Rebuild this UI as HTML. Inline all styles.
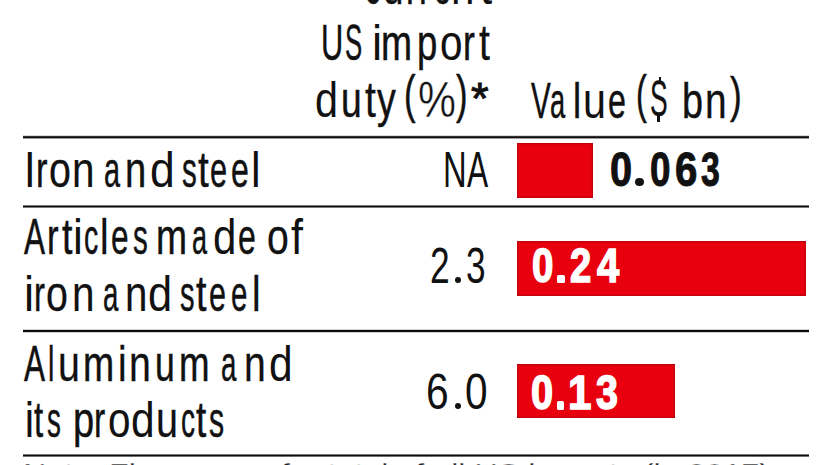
<!DOCTYPE html>
<html><head><meta charset="utf-8">
<style>
html,body{margin:0;padding:0;background:#fff;}
html{overflow:hidden;width:826px;height:465px;}
body{width:826px;height:465px;position:relative;overflow:hidden;font-family:"Liberation Sans",sans-serif;color:#111;font-kerning:none;}
.t{position:absolute;font-size:48px;line-height:48px;white-space:nowrap;transform-origin:0 0;}
.hr{position:absolute;left:23px;width:786px;height:1px;background:#0d0d0d;}
.bar{position:absolute;background:#e8000f;left:517px;box-shadow:inset 0 0 2px 0.5px rgba(110,0,12,0.6);}
</style></head><body>
<div class="hr" style="top:135px;height:1px;opacity:0.15;"></div>
<div class="hr" style="top:136px;height:1px;opacity:0.85;"></div>
<div class="hr" style="top:137px;height:1px;opacity:1;"></div>
<div class="hr" style="top:138px;height:1px;opacity:0.4;"></div>
<div class="hr" style="top:205px;height:1px;opacity:0.55;"></div>
<div class="hr" style="top:206px;height:1px;opacity:1;"></div>
<div class="hr" style="top:207px;height:1px;opacity:0.55;"></div>
<div class="hr" style="top:329px;height:1px;opacity:0.2;"></div>
<div class="hr" style="top:330px;height:1px;opacity:1;"></div>
<div class="hr" style="top:331px;height:1px;opacity:1;"></div>
<div class="hr" style="top:332px;height:1px;opacity:0.2;"></div>
<div class="hr" style="top:454px;height:1px;opacity:0.55;"></div>
<div class="hr" style="top:455px;height:1px;opacity:1;"></div>
<div class="hr" style="top:456px;height:1px;opacity:0.6;"></div>
<div style="position:absolute;left:0;top:455px;width:826px;height:10px;overflow:hidden;"><div class="t" style="left:23.36px;top:5.3px;font-size:28px;line-height:28px;transform:scaleX(1.1512);color:#222;-webkit-text-stroke:0.3px #fff;">Note: Figures are for total of all US imports (in 2017)</div></div>
<div class="bar" style="top:143px;width:76px;height:55px;"></div>
<div class="bar" style="top:241px;width:289px;height:55px;"></div>
<div class="bar" style="top:364px;width:158px;height:54px;"></div>

<div class="t" style="left:442.81px;top:144.8px;font-size:50px;line-height:50px;transform:scaleX(0.6552);color:#111;-webkit-text-stroke:0px #111;">N</div>
<div class="t" style="left:466.94px;top:144.8px;font-size:50px;line-height:50px;transform:scaleX(0.6334);color:#111;-webkit-text-stroke:0px #111;">A</div>
<div class="t" style="left:430.22px;top:241px;font-size:50px;line-height:50px;transform:scaleX(0.7068);color:#111;-webkit-text-stroke:0px #111;">2</div>
<div class="t" style="left:466.16px;top:241px;font-size:50px;line-height:50px;transform:scaleX(0.7045);color:#111;-webkit-text-stroke:0px #111;">3</div>
<div class="t" style="left:426.03px;top:367.4px;font-size:50px;line-height:50px;transform:scaleX(0.8149);color:#111;-webkit-text-stroke:0px #111;">6</div>
<div class="t" style="left:464.61px;top:367.4px;font-size:50px;line-height:50px;transform:scaleX(0.8117);color:#111;-webkit-text-stroke:0px #111;">0</div>
<div class="t" style="left:609.83px;top:145.9px;font-size:48px;line-height:48px;transform:scaleX(0.8279);font-weight:bold;color:#111;-webkit-text-stroke:1.0px #111;">0</div>
<div class="t" style="left:650.24px;top:145.9px;font-size:48px;line-height:48px;transform:scaleX(0.7666);font-weight:bold;color:#111;-webkit-text-stroke:1.0px #111;">0</div>
<div class="t" style="left:674.63px;top:145.9px;font-size:48px;line-height:48px;transform:scaleX(0.8361);font-weight:bold;color:#111;-webkit-text-stroke:1.0px #111;">6</div>
<div class="t" style="left:700.62px;top:145.9px;font-size:48px;line-height:48px;transform:scaleX(0.7041);font-weight:bold;color:#111;-webkit-text-stroke:1.0px #111;">3</div>
<div class="t" style="left:531.58px;top:241px;font-size:49px;line-height:49px;transform:scaleX(0.7853);font-weight:bold;color:#fff;-webkit-text-stroke:1.6px #fff;">0</div>
<div class="t" style="left:570.48px;top:241px;font-size:49px;line-height:49px;transform:scaleX(0.7800);font-weight:bold;color:#fff;-webkit-text-stroke:1.6px #fff;">2</div>
<div class="t" style="left:596.60px;top:241px;font-size:49px;line-height:49px;transform:scaleX(0.8153);font-weight:bold;color:#fff;-webkit-text-stroke:1.6px #fff;">4</div>
<div class="t" style="left:530.93px;top:367.8px;font-size:49px;line-height:49px;transform:scaleX(0.8110);font-weight:bold;color:#fff;-webkit-text-stroke:1.6px #fff;">0</div>
<div class="t" style="left:567.95px;top:367.8px;font-size:49px;line-height:49px;transform:scaleX(0.8596);font-weight:bold;color:#fff;-webkit-text-stroke:1.6px #fff;">1</div>
<div class="t" style="left:596.30px;top:367.8px;font-size:49px;line-height:49px;transform:scaleX(0.8047);font-weight:bold;color:#fff;-webkit-text-stroke:1.6px #fff;">3</div>
<div style="position:absolute;left:455.3px;top:277.3px;width:5.8px;height:5.8px;border-radius:50%;background:#111;"></div><div style="position:absolute;left:454.7px;top:403.4px;width:6px;height:5.8px;border-radius:50%;background:#111;"></div><div style="position:absolute;left:635.1px;top:178.2px;width:8.6px;height:8.2px;border-radius:50%;background:#111;"></div><div style="position:absolute;left:557px;top:274.5px;width:8px;height:8.5px;border-radius:1.5px;background:#fff;"></div><div style="position:absolute;left:557px;top:401.3px;width:7.3px;height:8.5px;border-radius:1.5px;background:#fff;"></div>
<div class="t" style="left:403.90px;top:70.09px;font-size:50.88px;line-height:50.88px;transform:scaleX(0.6820);color:#111;-webkit-text-stroke:0.5px #111;">(</div>
<div class="t" style="left:418.13px;top:75.29px;font-size:49.16px;line-height:49.16px;transform:scaleX(0.8680);color:#111;-webkit-text-stroke:0.4px #fff;">%</div>
<div class="t" style="left:456.15px;top:70.09px;font-size:50.88px;line-height:50.88px;transform:scaleX(0.6820);color:#111;-webkit-text-stroke:0.5px #111;">)</div>
<div class="t" style="left:470.52px;top:76.26px;font-size:45.00px;line-height:45.00px;transform:scaleX(1.0071);color:#111;-webkit-text-stroke:1.0px #111;">*</div>
<div class="t" style="left:635.94px;top:70.09px;font-size:50.88px;line-height:50.88px;transform:scaleX(0.6375);color:#111;-webkit-text-stroke:0.5px #111;">(</div>
<div class="t" style="left:649.85px;top:75.04px;font-size:49.58px;line-height:49.58px;transform:scaleX(0.5326);color:#111;-webkit-text-stroke:0.3px #111;">S</div>
<div class="t" style="left:729.74px;top:71.22px;font-size:49.80px;line-height:49.80px;transform:scaleX(0.7043);color:#111;-webkit-text-stroke:0.5px #111;">)</div>
<div style="position:absolute;left:659px;top:76.7px;width:2.4px;height:6px;background:#111;"></div><div style="position:absolute;left:657.4px;top:116.4px;width:2.4px;height:6px;background:#111;"></div>
<div class="t" style="left:23.74px;top:145.01px;transform:scaleX(0.8364);font-size:50px;line-height:48px;-webkit-text-stroke:0.35px #fff;line-height:50px;-webkit-text-stroke:0.00px #111;">I</div>
<div class="t" style="left:36.22px;top:145.01px;transform:scaleX(0.6880);font-size:50px;line-height:48px;-webkit-text-stroke:0.35px #fff;line-height:50px;-webkit-text-stroke:0.50px #111;">r</div>
<div class="t" style="left:48.65px;top:145.01px;transform:scaleX(0.7879);font-size:50px;line-height:48px;-webkit-text-stroke:0.35px #fff;line-height:50px;-webkit-text-stroke:0.28px #111;">o</div>
<div class="t" style="left:71.71px;top:145.01px;transform:scaleX(0.8098);font-size:50px;line-height:48px;-webkit-text-stroke:0.35px #fff;line-height:50px;-webkit-text-stroke:0.15px #111;">n</div>
<div class="t" style="left:104.38px;top:145.01px;transform:scaleX(0.5762);font-size:50px;line-height:48px;-webkit-text-stroke:0.35px #fff;line-height:50px;-webkit-text-stroke:0.50px #111;">a</div>
<div class="t" style="left:125.37px;top:145.01px;transform:scaleX(0.7627);font-size:50px;line-height:48px;-webkit-text-stroke:0.35px #fff;line-height:50px;-webkit-text-stroke:0.44px #111;">n</div>
<div class="t" style="left:150.13px;top:145.01px;transform:scaleX(0.8895);font-size:50px;line-height:48px;-webkit-text-stroke:0.35px #fff;line-height:50px;-webkit-text-stroke:0.00px #111;">d</div>
<div class="t" style="left:182.18px;top:145.01px;transform:scaleX(0.5917);font-size:50px;line-height:48px;-webkit-text-stroke:0.35px #fff;line-height:50px;-webkit-text-stroke:0.50px #111;">s</div>
<div class="t" style="left:197.61px;top:145.01px;transform:scaleX(0.7753);font-size:50px;line-height:48px;-webkit-text-stroke:0.35px #fff;line-height:50px;-webkit-text-stroke:0.36px #111;">t</div>
<div class="t" style="left:209.70px;top:145.01px;transform:scaleX(0.6138);font-size:50px;line-height:48px;-webkit-text-stroke:0.35px #fff;line-height:50px;-webkit-text-stroke:0.50px #111;">e</div>
<div class="t" style="left:231.44px;top:145.01px;transform:scaleX(0.6393);font-size:50px;line-height:48px;-webkit-text-stroke:0.35px #fff;line-height:50px;-webkit-text-stroke:0.50px #111;">e</div>
<div class="t" style="left:251.29px;top:145.01px;transform:scaleX(0.8647);font-size:50px;line-height:48px;-webkit-text-stroke:0.35px #fff;line-height:50px;-webkit-text-stroke:0.00px #111;">l</div>
<div class="t" style="left:24.14px;top:212.01px;transform:scaleX(0.6304);font-size:50px;line-height:48px;-webkit-text-stroke:0.35px #fff;line-height:50px;-webkit-text-stroke:0.50px #111;">A</div>
<div class="t" style="left:47.39px;top:212.01px;transform:scaleX(0.6960);font-size:50px;line-height:48px;-webkit-text-stroke:0.35px #fff;line-height:50px;-webkit-text-stroke:0.50px #111;">r</div>
<div class="t" style="left:62.43px;top:212.01px;transform:scaleX(0.7518);font-size:50px;line-height:48px;-webkit-text-stroke:0.35px #fff;line-height:50px;-webkit-text-stroke:0.50px #111;">t</div>
<div class="t" style="left:73.23px;top:212.01px;transform:scaleX(0.8875);font-size:50px;line-height:48px;-webkit-text-stroke:0.35px #fff;line-height:50px;-webkit-text-stroke:0.00px #111;">i</div>
<div class="t" style="left:84.49px;top:212.01px;transform:scaleX(0.5706);font-size:50px;line-height:48px;-webkit-text-stroke:0.35px #fff;line-height:50px;-webkit-text-stroke:0.50px #111;">c</div>
<div class="t" style="left:100.49px;top:212.01px;transform:scaleX(0.7737);font-size:50px;line-height:48px;-webkit-text-stroke:0.35px #fff;line-height:50px;-webkit-text-stroke:0.37px #111;">l</div>
<div class="t" style="left:111.16px;top:212.01px;transform:scaleX(0.6308);font-size:50px;line-height:48px;-webkit-text-stroke:0.35px #fff;line-height:50px;-webkit-text-stroke:0.50px #111;">e</div>
<div class="t" style="left:132.98px;top:212.01px;transform:scaleX(0.5917);font-size:50px;line-height:48px;-webkit-text-stroke:0.35px #fff;line-height:50px;-webkit-text-stroke:0.50px #111;">s</div>
<div class="t" style="left:156.23px;top:212.01px;transform:scaleX(0.7450);font-size:50px;line-height:48px;-webkit-text-stroke:0.35px #fff;line-height:50px;-webkit-text-stroke:0.50px #111;">m</div>
<div class="t" style="left:191.55px;top:212.01px;transform:scaleX(0.5412);font-size:50px;line-height:48px;-webkit-text-stroke:0.35px #fff;line-height:50px;-webkit-text-stroke:0.50px #111;">a</div>
<div class="t" style="left:213.14px;top:212.01px;transform:scaleX(0.8405);font-size:50px;line-height:48px;-webkit-text-stroke:0.35px #fff;line-height:50px;-webkit-text-stroke:0.00px #111;">d</div>
<div class="t" style="left:237.84px;top:212.01px;transform:scaleX(0.6393);font-size:50px;line-height:48px;-webkit-text-stroke:0.35px #fff;line-height:50px;-webkit-text-stroke:0.50px #111;">e</div>
<div class="t" style="left:266.55px;top:212.01px;transform:scaleX(0.7836);font-size:50px;line-height:48px;-webkit-text-stroke:0.35px #fff;line-height:50px;-webkit-text-stroke:0.31px #111;">o</div>
<div class="t" style="left:290.99px;top:212.01px;transform:scaleX(0.8599);font-size:50px;line-height:48px;-webkit-text-stroke:0.35px #fff;line-height:50px;-webkit-text-stroke:0.00px #111;">f</div>
<div class="t" style="left:24.06px;top:269.01px;transform:scaleX(0.9102);font-size:50px;line-height:48px;-webkit-text-stroke:0.35px #fff;line-height:50px;-webkit-text-stroke:0.00px #111;">i</div>
<div class="t" style="left:34.42px;top:269.01px;transform:scaleX(0.6560);font-size:50px;line-height:48px;-webkit-text-stroke:0.35px #fff;line-height:50px;-webkit-text-stroke:0.50px #111;">r</div>
<div class="t" style="left:46.25px;top:269.01px;transform:scaleX(0.7879);font-size:50px;line-height:48px;-webkit-text-stroke:0.35px #fff;line-height:50px;-webkit-text-stroke:0.28px #111;">o</div>
<div class="t" style="left:71.71px;top:269.01px;transform:scaleX(0.8098);font-size:50px;line-height:48px;-webkit-text-stroke:0.35px #fff;line-height:50px;-webkit-text-stroke:0.15px #111;">n</div>
<div class="t" style="left:102.53px;top:269.01px;transform:scaleX(0.5529);font-size:50px;line-height:48px;-webkit-text-stroke:0.35px #fff;line-height:50px;-webkit-text-stroke:0.50px #111;">a</div>
<div class="t" style="left:124.73px;top:269.01px;transform:scaleX(0.8051);font-size:50px;line-height:48px;-webkit-text-stroke:0.35px #fff;line-height:50px;-webkit-text-stroke:0.18px #111;">n</div>
<div class="t" style="left:147.88px;top:269.01px;transform:scaleX(0.8672);font-size:50px;line-height:48px;-webkit-text-stroke:0.35px #fff;line-height:50px;-webkit-text-stroke:0.00px #111;">d</div>
<div class="t" style="left:180.29px;top:269.01px;transform:scaleX(0.5825);font-size:50px;line-height:48px;-webkit-text-stroke:0.35px #fff;line-height:50px;-webkit-text-stroke:0.50px #111;">s</div>
<div class="t" style="left:195.63px;top:269.01px;transform:scaleX(0.7518);font-size:50px;line-height:48px;-webkit-text-stroke:0.35px #fff;line-height:50px;-webkit-text-stroke:0.50px #111;">t</div>
<div class="t" style="left:209.01px;top:269.01px;transform:scaleX(0.6095);font-size:50px;line-height:48px;-webkit-text-stroke:0.35px #fff;line-height:50px;-webkit-text-stroke:0.50px #111;">e</div>
<div class="t" style="left:230.85px;top:269.01px;transform:scaleX(0.5882);font-size:50px;line-height:48px;-webkit-text-stroke:0.35px #fff;line-height:50px;-webkit-text-stroke:0.50px #111;">e</div>
<div class="t" style="left:251.89px;top:269.01px;transform:scaleX(0.7737);font-size:50px;line-height:48px;-webkit-text-stroke:0.35px #fff;line-height:50px;-webkit-text-stroke:0.37px #111;">l</div>
<div class="t" style="left:24.14px;top:339.01px;transform:scaleX(0.6304);font-size:50px;line-height:48px;-webkit-text-stroke:0.35px #fff;line-height:50px;-webkit-text-stroke:0.50px #111;">A</div>
<div class="t" style="left:48.28px;top:339.01px;transform:scaleX(0.5689);font-size:50px;line-height:48px;-webkit-text-stroke:0.35px #fff;line-height:50px;-webkit-text-stroke:0.50px #111;">l</div>
<div class="t" style="left:58.05px;top:339.01px;transform:scaleX(0.7862);font-size:50px;line-height:48px;-webkit-text-stroke:0.35px #fff;line-height:50px;-webkit-text-stroke:0.29px #111;">u</div>
<div class="t" style="left:83.22px;top:339.01px;transform:scaleX(0.7478);font-size:50px;line-height:48px;-webkit-text-stroke:0.35px #fff;line-height:50px;-webkit-text-stroke:0.50px #111;">m</div>
<div class="t" style="left:118.21px;top:339.01px;transform:scaleX(0.7737);font-size:50px;line-height:48px;-webkit-text-stroke:0.35px #fff;line-height:50px;-webkit-text-stroke:0.37px #111;">i</div>
<div class="t" style="left:129.49px;top:339.01px;transform:scaleX(0.7862);font-size:50px;line-height:48px;-webkit-text-stroke:0.35px #fff;line-height:50px;-webkit-text-stroke:0.29px #111;">n</div>
<div class="t" style="left:155.39px;top:339.01px;transform:scaleX(0.7109);font-size:50px;line-height:48px;-webkit-text-stroke:0.35px #fff;line-height:50px;-webkit-text-stroke:0.50px #111;">u</div>
<div class="t" style="left:178.76px;top:339.01px;transform:scaleX(0.7336);font-size:50px;line-height:48px;-webkit-text-stroke:0.35px #fff;line-height:50px;-webkit-text-stroke:0.50px #111;">m</div>
<div class="t" style="left:220.53px;top:339.01px;transform:scaleX(0.5529);font-size:50px;line-height:48px;-webkit-text-stroke:0.35px #fff;line-height:50px;-webkit-text-stroke:0.50px #111;">a</div>
<div class="t" style="left:243.81px;top:339.01px;transform:scaleX(0.7815);font-size:50px;line-height:48px;-webkit-text-stroke:0.35px #fff;line-height:50px;-webkit-text-stroke:0.32px #111;">n</div>
<div class="t" style="left:268.82px;top:339.01px;transform:scaleX(0.8494);font-size:50px;line-height:48px;-webkit-text-stroke:0.35px #fff;line-height:50px;-webkit-text-stroke:0.00px #111;">d</div>
<div class="t" style="left:24.54px;top:395.01px;transform:scaleX(0.7964);font-size:50px;line-height:48px;-webkit-text-stroke:0.35px #fff;line-height:50px;-webkit-text-stroke:0.23px #111;">i</div>
<div class="t" style="left:33.70px;top:395.01px;transform:scaleX(0.6579);font-size:50px;line-height:48px;-webkit-text-stroke:0.35px #fff;line-height:50px;-webkit-text-stroke:0.50px #111;">t</div>
<div class="t" style="left:46.83px;top:395.01px;transform:scaleX(0.5550);font-size:50px;line-height:48px;-webkit-text-stroke:0.35px #fff;line-height:50px;-webkit-text-stroke:0.50px #111;">s</div>
<div class="t" style="left:72.55px;top:395.01px;transform:scaleX(0.7605);font-size:50px;line-height:48px;-webkit-text-stroke:0.35px #fff;line-height:50px;-webkit-text-stroke:0.46px #111;">p</div>
<div class="t" style="left:94.27px;top:395.01px;transform:scaleX(0.6720);font-size:50px;line-height:48px;-webkit-text-stroke:0.35px #fff;line-height:50px;-webkit-text-stroke:0.50px #111;">r</div>
<div class="t" style="left:108.30px;top:395.01px;transform:scaleX(0.8090);font-size:50px;line-height:48px;-webkit-text-stroke:0.35px #fff;line-height:50px;-webkit-text-stroke:0.16px #111;">o</div>
<div class="t" style="left:130.72px;top:395.01px;transform:scaleX(0.8494);font-size:50px;line-height:48px;-webkit-text-stroke:0.35px #fff;line-height:50px;-webkit-text-stroke:0.00px #111;">d</div>
<div class="t" style="left:156.33px;top:395.01px;transform:scaleX(0.7910);font-size:50px;line-height:48px;-webkit-text-stroke:0.35px #fff;line-height:50px;-webkit-text-stroke:0.26px #111;">u</div>
<div class="t" style="left:180.71px;top:395.01px;transform:scaleX(0.5613);font-size:50px;line-height:48px;-webkit-text-stroke:0.35px #fff;line-height:50px;-webkit-text-stroke:0.50px #111;">c</div>
<div class="t" style="left:195.84px;top:395.01px;transform:scaleX(0.7362);font-size:50px;line-height:48px;-webkit-text-stroke:0.35px #fff;line-height:50px;-webkit-text-stroke:0.50px #111;">t</div>
<div class="t" style="left:208.96px;top:395.01px;transform:scaleX(0.6055);font-size:50px;line-height:48px;-webkit-text-stroke:0.35px #fff;line-height:50px;-webkit-text-stroke:0.50px #111;">s</div>
<div class="t" style="left:320.82px;top:18.01px;transform:scaleX(0.6163);font-size:50px;line-height:48px;-webkit-text-stroke:0.35px #fff;line-height:50px;-webkit-text-stroke:0.50px #111;">U</div>
<div class="t" style="left:344.63px;top:18.01px;transform:scaleX(0.5142);font-size:50px;line-height:48px;-webkit-text-stroke:0.35px #fff;line-height:50px;-webkit-text-stroke:0.50px #111;">S</div>
<div class="t" style="left:371.66px;top:18.01px;transform:scaleX(0.9102);font-size:50px;line-height:48px;-webkit-text-stroke:0.35px #fff;line-height:50px;-webkit-text-stroke:0.00px #111;">i</div>
<div class="t" style="left:381.33px;top:18.01px;transform:scaleX(0.7450);font-size:50px;line-height:48px;-webkit-text-stroke:0.35px #fff;line-height:50px;-webkit-text-stroke:0.50px #111;">m</div>
<div class="t" style="left:417.15px;top:18.01px;transform:scaleX(0.7294);font-size:50px;line-height:48px;-webkit-text-stroke:0.35px #fff;line-height:50px;-webkit-text-stroke:0.50px #111;">p</div>
<div class="t" style="left:439.80px;top:18.01px;transform:scaleX(0.8090);font-size:50px;line-height:48px;-webkit-text-stroke:0.35px #fff;line-height:50px;-webkit-text-stroke:0.16px #111;">o</div>
<div class="t" style="left:463.34px;top:18.01px;transform:scaleX(0.7120);font-size:50px;line-height:48px;-webkit-text-stroke:0.35px #fff;line-height:50px;-webkit-text-stroke:0.50px #111;">r</div>
<div class="t" style="left:479.01px;top:18.01px;transform:scaleX(0.7832);font-size:50px;line-height:48px;-webkit-text-stroke:0.35px #fff;line-height:50px;-webkit-text-stroke:0.31px #111;">t</div>
<div class="t" style="left:315.46px;top:75.01px;transform:scaleX(0.8272);font-size:50px;line-height:48px;-webkit-text-stroke:0.35px #fff;line-height:50px;-webkit-text-stroke:0.05px #111;">d</div>
<div class="t" style="left:341.18px;top:75.01px;transform:scaleX(0.7439);font-size:50px;line-height:48px;-webkit-text-stroke:0.35px #fff;line-height:50px;-webkit-text-stroke:0.50px #111;">u</div>
<div class="t" style="left:365.01px;top:75.01px;transform:scaleX(0.7832);font-size:50px;line-height:48px;-webkit-text-stroke:0.35px #fff;line-height:50px;-webkit-text-stroke:0.31px #111;">t</div>
<div class="t" style="left:376.81px;top:75.01px;transform:scaleX(0.7506);font-size:50px;line-height:48px;-webkit-text-stroke:0.35px #fff;line-height:50px;-webkit-text-stroke:0.50px #111;">y</div>
<div class="t" style="left:530.67px;top:76.01px;transform:scaleX(0.5925);font-size:50px;line-height:48px;-webkit-text-stroke:0.35px #fff;line-height:50px;-webkit-text-stroke:0.50px #111;">V</div>
<div class="t" style="left:550.44px;top:76.01px;transform:scaleX(0.5451);font-size:50px;line-height:48px;-webkit-text-stroke:0.35px #fff;line-height:50px;-webkit-text-stroke:0.50px #111;">a</div>
<div class="t" style="left:572.95px;top:76.01px;transform:scaleX(0.7282);font-size:50px;line-height:48px;-webkit-text-stroke:0.35px #fff;line-height:50px;-webkit-text-stroke:0.50px #111;">l</div>
<div class="t" style="left:583.12px;top:76.01px;transform:scaleX(0.8239);font-size:50px;line-height:48px;-webkit-text-stroke:0.35px #fff;line-height:50px;-webkit-text-stroke:0.07px #111;">u</div>
<div class="t" style="left:607.63px;top:76.01px;transform:scaleX(0.6436);font-size:50px;line-height:48px;-webkit-text-stroke:0.35px #fff;line-height:50px;-webkit-text-stroke:0.50px #111;">e</div>
<div class="t" style="left:364.18px;top:-37.69px;transform:scaleX(0.4800);font-size:50px;line-height:48px;-webkit-text-stroke:0.35px #fff;line-height:50px;-webkit-text-stroke:0.50px #111;">C</div>
<div class="t" style="left:382.62px;top:-37.69px;transform:scaleX(0.7345);font-size:50px;line-height:48px;-webkit-text-stroke:0.35px #fff;line-height:50px;-webkit-text-stroke:0.50px #111;">u</div>
<div class="t" style="left:405.59px;top:-37.69px;transform:scaleX(0.6960);font-size:50px;line-height:48px;-webkit-text-stroke:0.35px #fff;line-height:50px;-webkit-text-stroke:0.50px #111;">r</div>
<div class="t" style="left:418.72px;top:-37.69px;transform:scaleX(0.6880);font-size:50px;line-height:48px;-webkit-text-stroke:0.35px #fff;line-height:50px;-webkit-text-stroke:0.50px #111;">r</div>
<div class="t" style="left:433.61px;top:-37.69px;transform:scaleX(0.6052);font-size:50px;line-height:48px;-webkit-text-stroke:0.35px #fff;line-height:50px;-webkit-text-stroke:0.50px #111;">e</div>
<div class="t" style="left:451.40px;top:-37.69px;transform:scaleX(0.8427);font-size:50px;line-height:48px;-webkit-text-stroke:0.35px #fff;line-height:50px;-webkit-text-stroke:0.00px #111;">n</div>
<div class="t" style="left:479.74px;top:-37.69px;transform:scaleX(0.8772);font-size:50px;line-height:48px;-webkit-text-stroke:0.35px #fff;line-height:50px;-webkit-text-stroke:0.00px #111;">t</div>
<div class="t" style="left:681.86px;top:76.01px;transform:scaleX(0.7560);font-size:50px;line-height:48px;-webkit-text-stroke:0.35px #fff;line-height:50px;-webkit-text-stroke:0.48px #111;">b</div>
<div class="t" style="left:704.52px;top:76.01px;transform:scaleX(0.7768);font-size:50px;line-height:48px;-webkit-text-stroke:0.35px #fff;line-height:50px;-webkit-text-stroke:0.35px #111;">n</div>
</body></html>
